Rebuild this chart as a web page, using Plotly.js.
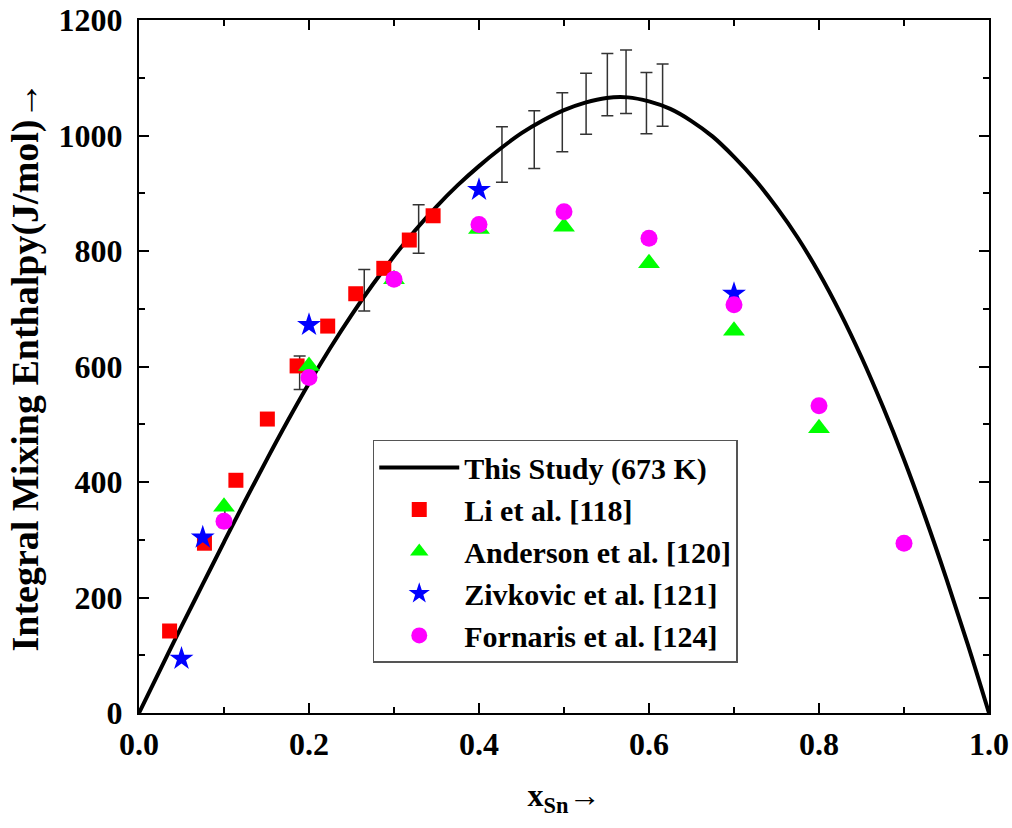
<!DOCTYPE html>
<html>
<head>
<meta charset="utf-8">
<script src="https://cdn.plot.ly/plotly-3.0.1.min.js"></script>
<style>html,body{margin:0;padding:0;background:#fff;}#chart{width:1012px;height:828px;}</style>
</head>
<body>
<div id="chart"></div>
<script>
// Calculated curve (This Study, 673 K)
const curveX = [0, 0.025, 0.05, 0.075, 0.1, 0.125, 0.15, 0.175, 0.2, 0.225, 0.25, 0.275, 0.3, 0.325, 0.35, 0.375, 0.4, 0.425, 0.45, 0.475, 0.5, 0.525, 0.55, 0.575, 0.6, 0.625, 0.65, 0.675, 0.7, 0.725, 0.75, 0.775, 0.8, 0.825, 0.85, 0.875, 0.9, 0.925, 0.95, 0.975, 1.0];
const curveY = [0, 75, 150, 223, 296, 368, 438, 506, 571, 632, 689, 742, 791, 836, 877, 914, 947, 977, 1004, 1026, 1044, 1057, 1065, 1066, 1059, 1046, 1025, 998, 963, 923, 876, 823, 762, 693, 616, 531, 439, 339, 232, 119, 0];

// Error bars (experimental points of this study)
const errX  = [0.101, 0.189, 0.265, 0.329, 0.427, 0.465, 0.498, 0.526, 0.551, 0.573, 0.597, 0.616];
const errY  = [337, 589, 732, 838, 967, 993, 1023, 1055, 1088, 1093, 1056, 1070];
const errPM = [16, 29, 36, 42, 48, 50, 51, 53, 54, 55, 53, 54];

// Li et al. [118]
const liX = [0.036, 0.077, 0.114, 0.151, 0.186, 0.222, 0.255, 0.288, 0.318, 0.346];
const liY = [142, 294, 403, 509, 601, 670, 726, 770, 819, 861];

// Anderson et al. [120]
const anX = [0.1, 0.2, 0.3, 0.4, 0.5, 0.6, 0.7, 0.8];
const anY = [357, 601, 751, 838, 842, 779, 662, 493];

// Zivkovic et al. [121]
const ziX = [0.05, 0.075, 0.2, 0.4, 0.7];
const ziY = [94, 304, 672, 906, 726];

// Fornaris et al. [124]
const foX = [0.1, 0.2, 0.3, 0.4, 0.5, 0.6, 0.7, 0.8, 0.9];
const foY = [332, 581, 751, 846, 868, 822, 707, 532, 294];

const serif = "'Times New Roman', 'Liberation Serif', serif";

const traces = [
  {
    x: errX, y: errY, type: 'scatter', mode: 'markers', showlegend: false, hoverinfo: 'skip',
    marker: {color: 'rgba(0,0,0,0)', size: 1},
    error_y: {type: 'data', array: errPM, visible: true, color: '#333333', thickness: 1.5, width: 6}
  },
  {
    x: curveX, y: curveY, type: 'scatter', mode: 'lines', name: 'This Study (673 K)',
    line: {color: '#000000', width: 4, shape: 'spline', smoothing: 1}
  },
  {
    x: liX, y: liY, type: 'scatter', mode: 'markers', name: 'Li et al. [118]',
    marker: {symbol: 'square', color: '#ff0000', size: 15}
  },
  {
    x: anX, y: anY, type: 'scatter', mode: 'markers', name: 'Anderson et al. [120]',
    marker: {symbol: 'triangle-up', color: '#00ff00', size: 19}
  },
  {
    x: ziX, y: ziY, type: 'scatter', mode: 'markers', name: 'Zivkovic et al. [121]',
    marker: {symbol: 'star', color: '#0000ff', size: 18}
  },
  {
    x: foX, y: foY, type: 'scatter', mode: 'markers', name: 'Fornaris et al. [124]',
    marker: {symbol: 'circle', color: '#ff00ff', size: 17}
  }
];

const axisCommon = {
  showline: true, linecolor: '#000', linewidth: 2, mirror: 'allticks',
  ticks: 'inside', ticklen: 10, tickwidth: 2, tickcolor: '#000',
  showgrid: false, zeroline: false, automargin: false,
  tickfont: {family: serif, size: 32, color: '#000', weight: 'bold'}
};

const layout = {
  width: 1012, height: 828,
  paper_bgcolor: '#ffffff', plot_bgcolor: '#ffffff',
  margin: {l: 139, r: 23, t: 20, b: 115},
  showlegend: true,
  legend: {
    x: 0.275, y: 0.394, xanchor: 'left', yanchor: 'top',
    bgcolor: 'rgba(255,255,255,0)', bordercolor: '#555', borderwidth: 1.5,
    font: {family: serif, size: 30, color: '#000', weight: 'bold'},
    itemwidth: 80, tracegroupgap: 0
  },
  xaxis: Object.assign({}, axisCommon, {
    range: [0, 1], dtick: 0.2, tick0: 0, tickformat: '.1f', ticklabelstandoff: 2,
    minor: {dtick: 0.1, ticklen: 6, tickwidth: 2, tickcolor: '#000', ticks: 'inside', showgrid: false},
    title: {text: 'x<sub>Sn</sub>→', font: {family: serif, size: 32, color: '#000', weight: 'bold'}, standoff: 22}
  }),
  yaxis: Object.assign({}, axisCommon, {
    range: [0, 1200], dtick: 200, tick0: 0, ticklabelstandoff: 8,
    minor: {dtick: 100, ticklen: 6, tickwidth: 2, tickcolor: '#000', ticks: 'inside', showgrid: false},
    title: {text: 'Integral Mixing Enthalpy(J/mol)→', font: {family: serif, size: 38, color: '#000', weight: 'bold'}, standoff: 8}
  })
};

Plotly.newPlot('chart', traces, layout, {displayModeBar: false, staticPlot: true});
</script>
</body>
</html>
